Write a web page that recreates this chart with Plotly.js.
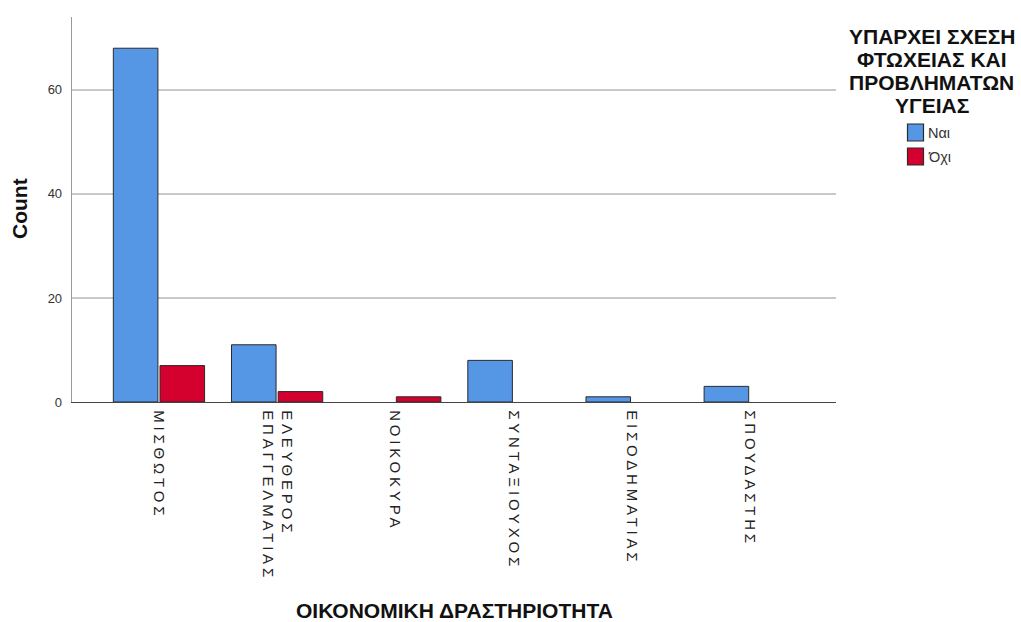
<!DOCTYPE html>
<html>
<head>
<meta charset="utf-8">
<script src="https://cdn.plot.ly/plotly-3.0.1.min.js"></script>
<style>
html,body{margin:0;padding:0;background:#fff;}
#chart{width:1021px;height:622px;}
#chart .xtick text{letter-spacing:3.8px;}
</style>
</head>
<body>
<div id="chart"></div>
<script>
const categories = ["ΜΙΣΘΩΤΟΣ", "ΕΛΕΥΘΕΡΟΣ<br>ΕΠΑΓΓΕΛΜΑΤΙΑΣ", "ΝΟΙΚΟΚΥΡΑ", "ΣΥΝΤΑΞΙΟΥΧΟΣ", "ΕΙΣΟΔΗΜΑΤΙΑΣ", "ΣΠΟΥΔΑΣΤΗΣ"];
const seriesNames = ["Ναι", "Όχι"];
const valuesYes = [68, 11, 0, 8, 1, 3];
const valuesNo = [7, 2, 1, 0, 0, 0];
const yTicks = [0, 20, 40, 60];
const legendTitleLines = ["ΥΠΑΡΧΕΙ ΣΧΕΣΗ", "ΦΤΩΧΕΙΑΣ ΚΑΙ", "ΠΡΟΒΛΗΜΑΤΩΝ", "ΥΓΕΙΑΣ"];
const xTitle = "ΟΙΚΟΝΟΜΙΚΗ ΔΡΑΣΤΗΡΙΟΤΗΤΑ";
const yTitle = "Count";

const colors = ["#5596e5", "#d4002e"];
const W = 1021, H = 622;
const M = {l: 72, r: 185, t: 17, b: 220};
const pw = W - M.l - M.r, ph = H - M.t - M.b;
const px = x => (x - M.l) / pw;          // pixel -> paper x
const py = y => (H - M.b - y) / ph;      // pixel -> paper y

const traces = [valuesYes, valuesNo].map((v, i) => ({
  type: "bar",
  name: seriesNames[i],
  x: categories,
  y: v,
  marker: {color: colors[i], line: {color: "#2a2a2a", width: v.map(d => d ? 1 : 0)}},
  showlegend: false,
  hoverinfo: "x+y+name"
}));

const annotations = [];
legendTitleLines.forEach((t, i) => annotations.push({
  xref: "paper", yref: "paper", x: px(932), y: py(36.5 + i * 23),
  xanchor: "center", yanchor: "middle", showarrow: false,
  text: "<b>" + t + "</b>", font: {size: 21, color: "#111"}
}));
const shapes = [];
seriesNames.forEach((n, i) => {
  const top = 124 + i * 24;
  shapes.push({type: "rect", xref: "paper", yref: "paper",
    x0: px(907.5), x1: px(923.5), y0: py(top), y1: py(top + 17),
    fillcolor: colors[i], line: {color: "#2a2a2a", width: 1.2}});
  annotations.push({xref: "paper", yref: "paper", x: px(926), y: py(top + 9),
    xanchor: "left", yanchor: "middle", showarrow: false,
    text: n, font: {size: 14.5, color: "#333"}});
});
annotations.push({xref: "paper", yref: "paper", x: 0.5, y: py(611),
  xanchor: "center", yanchor: "middle", showarrow: false,
  text: "<b>" + xTitle + "</b>", font: {size: 21, color: "#111"}});
annotations.push({xref: "paper", yref: "paper", x: px(19), y: py(209),
  xanchor: "center", yanchor: "middle", showarrow: false, textangle: -90,
  text: "<b>" + yTitle + "</b>", font: {size: 21, color: "#111"}});

const layout = {
  width: W, height: H,
  margin: M,
  paper_bgcolor: "#fff", plot_bgcolor: "#fff",
  barmode: "group",
  bargap: 0.21,
  bargroupgap: 0.045,
  font: {family: "Liberation Sans, Arial, sans-serif", color: "#222"},
  showlegend: false,
  xaxis: {
    type: "category",
    range: [-0.736, 5.73],
    tickangle: 90,
    tickfont: {size: 15, color: "#222"},
    ticklabelstandoff: 4,
    showline: true, linecolor: "#444", linewidth: 1.2,
    ticks: "", showgrid: false, zeroline: false,
    automargin: false
  },
  yaxis: {
    range: [0, 74],
    tickvals: yTicks,
    ticktext: yTicks.map(String),
    tickfont: {size: 13, color: "#333"},
    ticklabelstandoff: 6,
    showline: true, linecolor: "#999", linewidth: 1.3,
    showgrid: true, gridcolor: "#c9c9c9", gridwidth: 1.4,
    zeroline: false, ticks: "",
    automargin: false
  },
  shapes: shapes,
  annotations: annotations
};

Plotly.newPlot("chart", traces, layout, {displayModeBar: false, staticPlot: true});
</script>
</body>
</html>
